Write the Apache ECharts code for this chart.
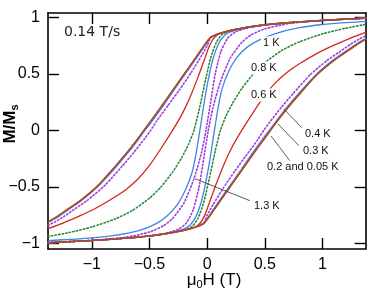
<!DOCTYPE html>
<html><head><meta charset="utf-8">
<script src="https://cdn.jsdelivr.net/npm/echarts@6/dist/echarts.min.js"></script>
<style>html,body{margin:0;padding:0;background:#fff}#c{width:374px;height:292px}</style>
</head><body><div id="c"></div>
<script>
// ---- data (mu0H in T, M/Ms) ----
const tickValues = [-1, -0.5, 0, 0.5, 1];
const rateLabel = '0.14 T/s';
const tempLabels = ['0.05 K','0.2 K','0.3 K','0.4 K','0.6 K','0.8 K','1 K','1.3 K'];

// descending branches (field swept from + to -), listed by increasing H
const d005 = [[-1.38,-0.81],[-1.3,-0.76],[-1.2,-0.69],[-1.1,-0.62],[-0.95,-0.49],[-0.8,-0.32],[-0.7,-0.2],[-0.6,-0.07],[-0.55,0.0],[-0.5,0.07],[-0.4,0.21],[-0.3,0.355],[-0.2,0.5],[-0.1,0.645],[0.0,0.79],[0.03,0.826],[0.1,0.857],[0.2,0.885],[0.3,0.905],[0.45,0.93],[0.6,0.946],[0.8,0.962],[1.0,0.975],[1.2,0.986],[1.38,0.995]];
const d02 = [[-1.38,-0.812],[-1.3,-0.762],[-1.2,-0.692],[-1.1,-0.622],[-0.95,-0.492],[-0.8,-0.323],[-0.7,-0.203],[-0.6,-0.073],[-0.55,-0.003],[-0.5,0.067],[-0.4,0.207],[-0.3,0.352],[-0.2,0.497],[-0.1,0.642],[0.0,0.788],[0.03,0.825],[0.1,0.857],[0.2,0.885],[0.3,0.905],[0.45,0.93],[0.6,0.946],[0.8,0.962],[1.0,0.975],[1.2,0.986],[1.38,0.995]];
const d03 = [[-1.38,-0.815],[-1.3,-0.77],[-1.2,-0.70],[-1.1,-0.63],[-0.95,-0.5],[-0.8,-0.335],[-0.7,-0.215],[-0.6,-0.085],[-0.54,0.0],[-0.5,0.05],[-0.4,0.19],[-0.3,0.34],[-0.2,0.485],[-0.1,0.63],[0.0,0.78],[0.03,0.823],[0.1,0.856],[0.2,0.885],[0.3,0.905],[0.45,0.93],[0.6,0.946],[0.8,0.962],[1.0,0.975],[1.2,0.986],[1.38,0.995]];
const d04 = [[-1.38,-0.84],[-1.32,-0.81],[-1.24,-0.76],[-1.14,-0.69],[-1.04,-0.62],[-0.89,-0.49],[-0.74,-0.32],[-0.64,-0.2],[-0.54,-0.07],[-0.49,0.0],[-0.44,0.08],[-0.34,0.22],[-0.24,0.36],[-0.14,0.51],[-0.05,0.66],[0.0,0.75],[0.03,0.82],[0.1,0.855],[0.2,0.884],[0.3,0.904],[0.45,0.929],[0.6,0.945],[0.8,0.961],[1.0,0.974],[1.2,0.985],[1.38,0.994]];
const d06 = [[-1.38,-0.87],[-1.25,-0.82],[-1.1,-0.755],[-0.95,-0.68],[-0.8,-0.59],[-0.7,-0.52],[-0.6,-0.43],[-0.5,-0.31],[-0.4,-0.16],[-0.3,0.0],[-0.22,0.14],[-0.15,0.29],[-0.08,0.47],[-0.03,0.61],[0.02,0.75],[0.06,0.82],[0.1,0.853],[0.2,0.883],[0.3,0.903],[0.45,0.928],[0.6,0.945],[0.8,0.961],[1.0,0.974],[1.2,0.985],[1.38,0.994]];
const d08 = [[-1.38,-0.94],[-1.2,-0.905],[-1.0,-0.855],[-0.8,-0.785],[-0.65,-0.71],[-0.5,-0.6],[-0.4,-0.5],[-0.3,-0.37],[-0.22,-0.24],[-0.16,-0.12],[-0.115,0.0],[-0.07,0.18],[-0.02,0.42],[0.03,0.64],[0.08,0.78],[0.13,0.85],[0.2,0.882],[0.3,0.903],[0.45,0.928],[0.6,0.945],[0.8,0.961],[1.0,0.974],[1.2,0.985],[1.38,0.994]];
const d1 = [[-1.38,-0.975],[-1.2,-0.966],[-1.0,-0.952],[-0.8,-0.93],[-0.6,-0.89],[-0.45,-0.83],[-0.35,-0.76],[-0.26,-0.66],[-0.19,-0.53],[-0.13,-0.37],[-0.095,-0.2],[-0.063,0.0],[-0.03,0.22],[0.01,0.45],[0.05,0.63],[0.1,0.77],[0.15,0.84],[0.2,0.872],[0.3,0.9],[0.45,0.927],[0.6,0.944],[0.8,0.96],[1.0,0.973],[1.2,0.985],[1.38,0.994]];
const d13 = [[-1.38,-0.993],[-1.2,-0.985],[-1.0,-0.975],[-0.7,-0.945],[-0.5,-0.9],[-0.38,-0.845],[-0.3,-0.78],[-0.2,-0.64],[-0.115,-0.43],[-0.05,-0.2],[-0.01,0.0],[0.03,0.25],[0.07,0.5],[0.12,0.7],[0.18,0.82],[0.25,0.875],[0.35,0.908],[0.45,0.926],[0.6,0.944],[0.8,0.96],[1.0,0.973],[1.2,0.985],[1.38,0.995]];

// ascending branches (field swept from - to +)
const a005 = [[-1.38,-0.995],[-1.2,-0.986],[-1.0,-0.975],[-0.8,-0.962],[-0.6,-0.946],[-0.45,-0.93],[-0.3,-0.905],[-0.2,-0.885],[-0.1,-0.857],[-0.03,-0.826],[0.0,-0.79],[0.1,-0.645],[0.2,-0.5],[0.3,-0.355],[0.4,-0.21],[0.5,-0.07],[0.55,0.0],[0.6,0.07],[0.7,0.2],[0.8,0.32],[0.95,0.49],[1.1,0.62],[1.2,0.69],[1.3,0.76],[1.38,0.81]];
const a02 = [[-1.38,-0.995],[-1.2,-0.986],[-1.0,-0.975],[-0.8,-0.962],[-0.6,-0.946],[-0.45,-0.93],[-0.3,-0.905],[-0.2,-0.885],[-0.1,-0.857],[-0.03,-0.825],[0.0,-0.788],[0.1,-0.642],[0.2,-0.497],[0.3,-0.352],[0.4,-0.207],[0.5,-0.067],[0.55,0.003],[0.6,0.073],[0.7,0.203],[0.8,0.323],[0.95,0.492],[1.1,0.622],[1.2,0.692],[1.3,0.762],[1.38,0.812]];
const a03 = [[-1.38,-0.995],[-1.2,-0.986],[-1.0,-0.975],[-0.8,-0.962],[-0.6,-0.946],[-0.45,-0.93],[-0.3,-0.905],[-0.2,-0.885],[-0.1,-0.856],[-0.03,-0.823],[0.0,-0.78],[0.1,-0.63],[0.2,-0.485],[0.3,-0.34],[0.4,-0.19],[0.5,-0.05],[0.54,0.0],[0.6,0.085],[0.7,0.215],[0.8,0.335],[0.95,0.5],[1.1,0.63],[1.2,0.70],[1.3,0.77],[1.38,0.815]];
const a04 = [[-1.38,-0.994],[-1.2,-0.985],[-1.0,-0.974],[-0.8,-0.961],[-0.6,-0.945],[-0.45,-0.929],[-0.3,-0.904],[-0.2,-0.884],[-0.1,-0.855],[-0.03,-0.82],[0.0,-0.75],[0.05,-0.66],[0.14,-0.51],[0.24,-0.36],[0.34,-0.22],[0.44,-0.08],[0.49,0.0],[0.54,0.07],[0.64,0.2],[0.74,0.32],[0.89,0.49],[1.04,0.62],[1.14,0.69],[1.24,0.76],[1.32,0.81],[1.38,0.84]];
const a06 = [[-1.38,-0.994],[-1.2,-0.985],[-1.0,-0.974],[-0.8,-0.961],[-0.6,-0.945],[-0.45,-0.928],[-0.3,-0.903],[-0.2,-0.883],[-0.1,-0.853],[-0.06,-0.82],[-0.02,-0.75],[0.03,-0.61],[0.08,-0.47],[0.15,-0.29],[0.22,-0.14],[0.3,0.0],[0.4,0.16],[0.5,0.31],[0.6,0.43],[0.7,0.52],[0.8,0.59],[0.95,0.68],[1.1,0.755],[1.25,0.82],[1.38,0.87]];
const a08 = [[-1.38,-0.994],[-1.2,-0.985],[-1.0,-0.974],[-0.8,-0.961],[-0.6,-0.945],[-0.45,-0.928],[-0.3,-0.903],[-0.2,-0.882],[-0.13,-0.85],[-0.08,-0.78],[-0.03,-0.64],[0.02,-0.42],[0.07,-0.18],[0.115,0.0],[0.16,0.12],[0.22,0.24],[0.3,0.37],[0.4,0.5],[0.5,0.6],[0.65,0.71],[0.8,0.785],[1.0,0.855],[1.2,0.905],[1.38,0.94]];
const a1 = [[-1.38,-0.994],[-1.2,-0.985],[-1.0,-0.973],[-0.8,-0.96],[-0.6,-0.944],[-0.45,-0.927],[-0.3,-0.9],[-0.2,-0.872],[-0.15,-0.84],[-0.1,-0.77],[-0.05,-0.63],[-0.01,-0.45],[0.03,-0.22],[0.063,0.0],[0.095,0.2],[0.13,0.37],[0.19,0.53],[0.26,0.65],[0.35,0.74],[0.45,0.8],[0.6,0.86],[0.8,0.91],[1.0,0.938],[1.2,0.955],[1.38,0.965]];
const a13 = [[-1.38,-0.995],[-1.2,-0.985],[-1.0,-0.973],[-0.8,-0.96],[-0.6,-0.944],[-0.45,-0.926],[-0.35,-0.908],[-0.25,-0.875],[-0.18,-0.82],[-0.12,-0.7],[-0.07,-0.5],[-0.03,-0.25],[0.01,0.0],[0.05,0.2],[0.115,0.43],[0.2,0.64],[0.3,0.78],[0.38,0.845],[0.5,0.9],[0.7,0.945],[1.0,0.975],[1.2,0.985],[1.38,0.993]];

// arrows: [from, to] in data units (tail near label, head on curve)
const arrows = [
  [[0.82, 0.024], [0.666, 0.19]],
  [[0.795, -0.135], [0.613, 0.06]],
  [[0.717, -0.268], [0.555, -0.05]],
  [[0.37, -0.622], [-0.107, -0.427]]
];

// ---- chart ----
const FONT = '"Liberation Sans", Arial, Helvetica, sans-serif';
const RED = '#d4281c', BLUE = '#3e86e6', GREEN = '#2b8a3b', PURPLE = '#a03ade', REDB = '#cf3a1a';
function mk(name, data, color, dotted, width) {
  return {
    name, type: 'line', data, showSymbol: false, symbol: 'none',
    smooth: 0.2, silent: true,
    emphasis: { disabled: true },
    lineStyle: { color, width: width || (dotted ? 1.6 : 1.3), type: dotted ? [1.4, 2.2] : 'solid', cap: dotted ? 'round' : 'butt' }
  };
}
const series = [
  mk('1.3 K d', d13, PURPLE, true), mk('1.3 K a', a13, PURPLE, true),
  mk('1 K d', d1, BLUE, false), mk('1 K a', a1, BLUE, false),
  mk('0.8 K d', d08, GREEN, true), mk('0.8 K a', a08, GREEN, true),
  mk('0.6 K d', d06, RED, false), mk('0.6 K a', a06, RED, false),
  mk('0.4 K d', d04, PURPLE, true), mk('0.4 K a', a04, PURPLE, true),
  mk('0.3 K d', d03, BLUE, false), mk('0.3 K a', a03, BLUE, false),
  mk('0.05 K d', d005, GREEN, false), mk('0.05 K a', a005, GREEN, false),
  mk('0.2 K d', d02, REDB, false), mk('0.2 K a', a02, REDB, false)
];
series.push({
  type: 'line', data: [], silent: true,
  markLine: {
    silent: true, animation: false, symbol: ['none', 'arrow'], symbolSize: [0, 11],
    label: { show: false }, emphasis: { disabled: true },
    lineStyle: { color: '#333', width: 0.8, type: 'solid' },
    data: arrows.map(a => [{ coord: a[0] }, { coord: a[1], symbol: 'arrow', itemStyle: { color: '#111' } }])
  }
});

const fmt = v => (v < 0 ? '\u2212' + String(-v) : String(v));
const axisCommon = {
  type: 'value', splitLine: { show: false },
  axisLine: { show: true, onZero: false, lineStyle: { color: '#000', width: 1.6 } },
  axisTick: { show: true, inside: true, length: 11, customValues: tickValues, lineStyle: { color: '#000', width: 1.4 } }
};
const subRich = (bold) => ({
  m: { fontSize: 17, fontWeight: bold ? 'bold' : 'normal', fontFamily: FONT, fill: '#000', lineHeight: 20 },
  s: { fontSize: 11, fontWeight: bold ? 'bold' : 'normal', fontFamily: FONT, fill: '#000', verticalAlign: 'bottom', lineHeight: 12, padding: [6, 0, 0, 0] }
});
const option = {
  animation: false,
  backgroundColor: '#fff',
  grid: { left: 48, right: 8.3, top: 13, bottom: 43, containLabel: false, outerBoundsMode: 'none' },
  xAxis: [
    Object.assign({}, axisCommon, {
      min: -1.38, max: 1.375, position: 'bottom',
      axisLabel: { customValues: tickValues, formatter: fmt, fontSize: 16, fontFamily: FONT, color: '#000', margin: 8 }
    }),
    Object.assign({}, axisCommon, { min: -1.38, max: 1.375, position: 'top', axisLabel: { show: false, customValues: tickValues } })
  ],
  yAxis: [
    Object.assign({}, axisCommon, {
      min: -1.05, max: 1.04, position: 'left',
      axisLabel: { customValues: tickValues, formatter: fmt, fontSize: 16, fontFamily: FONT, color: '#000', margin: 8 }
    }),
    Object.assign({}, axisCommon, { min: -1.05, max: 1.04, position: 'right', axisLabel: { show: false, customValues: tickValues } })
  ],
  series,
  graphic: [
    { type: 'text', x: 10, y: 124, rotation: Math.PI / 2, z: 100, style: {
        text: '{m|M/M}{s|s}', textAlign: 'center', textVerticalAlign: 'middle', rich: subRich(true) } },
    { type: 'text', x: 214, y: 280, z: 100, style: {
        text: '{m|\u03bc}{s|0}{m|H (T)}', textAlign: 'center', textVerticalAlign: 'middle', rich: subRich(false) } },
    { type: 'text', x: 64, y: 32, z: 100, style: { text: rateLabel, font: '14px "DejaVu Sans", ' + FONT, fill: '#222', textVerticalAlign: 'middle' } },
    { type: 'text', x: 261, y: 43, z: 100, style: { text: tempLabels[6], font: '11px ' + FONT, fill: '#111', textVerticalAlign: 'middle', backgroundColor: '#fff', padding: [1, 2] } },
    { type: 'text', x: 249, y: 68, z: 100, style: { text: tempLabels[5], font: '11px ' + FONT, fill: '#111', textVerticalAlign: 'middle', backgroundColor: '#fff', padding: [1, 2] } },
    { type: 'text', x: 249, y: 95, z: 100, style: { text: tempLabels[4], font: '11px ' + FONT, fill: '#111', textVerticalAlign: 'middle', backgroundColor: '#fff', padding: [1, 2] } },
    { type: 'text', x: 305, y: 134, z: 100, style: { text: tempLabels[3], font: '11px ' + FONT, fill: '#111', textVerticalAlign: 'middle' } },
    { type: 'text', x: 303, y: 151, z: 100, style: { text: tempLabels[2], font: '11px ' + FONT, fill: '#111', textVerticalAlign: 'middle' } },
    { type: 'text', x: 267, y: 167, z: 100, style: { text: '0.2 and 0.05 K', font: '11px ' + FONT, fill: '#111', textVerticalAlign: 'middle' } },
    { type: 'text', x: 254, y: 206, z: 100, style: { text: tempLabels[7], font: '11px ' + FONT, fill: '#111', textVerticalAlign: 'middle' } }
  ]
};
const chart = echarts.init(document.getElementById('c'), null, { renderer: 'canvas', width: 374, height: 292 });
chart.setOption(option);
</script>
</body></html>
